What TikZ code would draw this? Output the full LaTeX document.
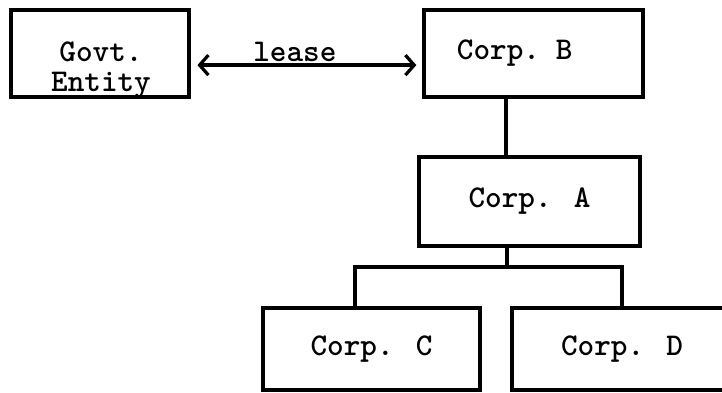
\documentclass[tikz,border=0pt]{standalone}
\usepackage{fontspec}
\usetikzlibrary{arrows.meta,positioning}
\tikzset{
  corpbox/.style={draw, line width=2.3pt, inner sep=0pt,
    font=\ttfamily\bfseries\fontsize{22.5}{21}\selectfont},
  corptext/.style={font=\ttfamily\bfseries\fontsize{22.5}{21}\selectfont},
  tie/.style={line width=2.3pt},
  leasearrow/.style={line width=2.3pt, {Straight Barb[length=0.22cm,width=0.5cm]}-{Straight Barb[length=0.22cm,width=0.5cm]}}
}

\begin{document}
\begin{tikzpicture}[x=0.025cm,y=-0.025cm]
\path[use as bounding box, clip] (0,0) rectangle (722,393);
\node[corpbox, minimum width=4.45cm, minimum height=2.175cm] (gov) at (100,53.5) {};
\node[corptext, align=center] (govtext) at (101,70) {Govt.\\Entity};
\node[corpbox, minimum height=2.175cm, text width=3.825cm, inner xsep=0.825cm, align=left] (corpB) at (533.5,53.5) {Corp. B};
\node[corpbox, minimum width=5.525cm, minimum height=2.225cm] (corpA) at (529.5,201.5) {Corp. A};
\node[corpbox, minimum width=5.425cm, minimum height=2.05cm] (corpC) at (371.5,349) {Corp. C};
\node[corpbox, minimum width=5.5cm, minimum height=2.05cm] (corpD) at (622,349) {Corp. D};
\coordinate (trunk) at (506,127);
\coordinate (split) at (507,267);
\coordinate (cjoin) at (355,267);
\coordinate (djoin) at (622,267);
\draw[leasearrow, shorten <=0.17cm, shorten >=0.15cm] ([yshift=-0.29cm]gov.east) -- node[corptext, above, pos=0.45, inner sep=1pt] (lease) {lease} ([yshift=-0.29cm]corpB.west);
\draw[tie] (corpB.south -| trunk) -- (corpA.north -| trunk);
\draw[tie] (corpA.south -| split) -- (split);
\draw[tie] (cjoin |- corpC.north) -- (cjoin) -- (djoin) -- (djoin |- corpD.north);
\end{tikzpicture}
\end{document}
